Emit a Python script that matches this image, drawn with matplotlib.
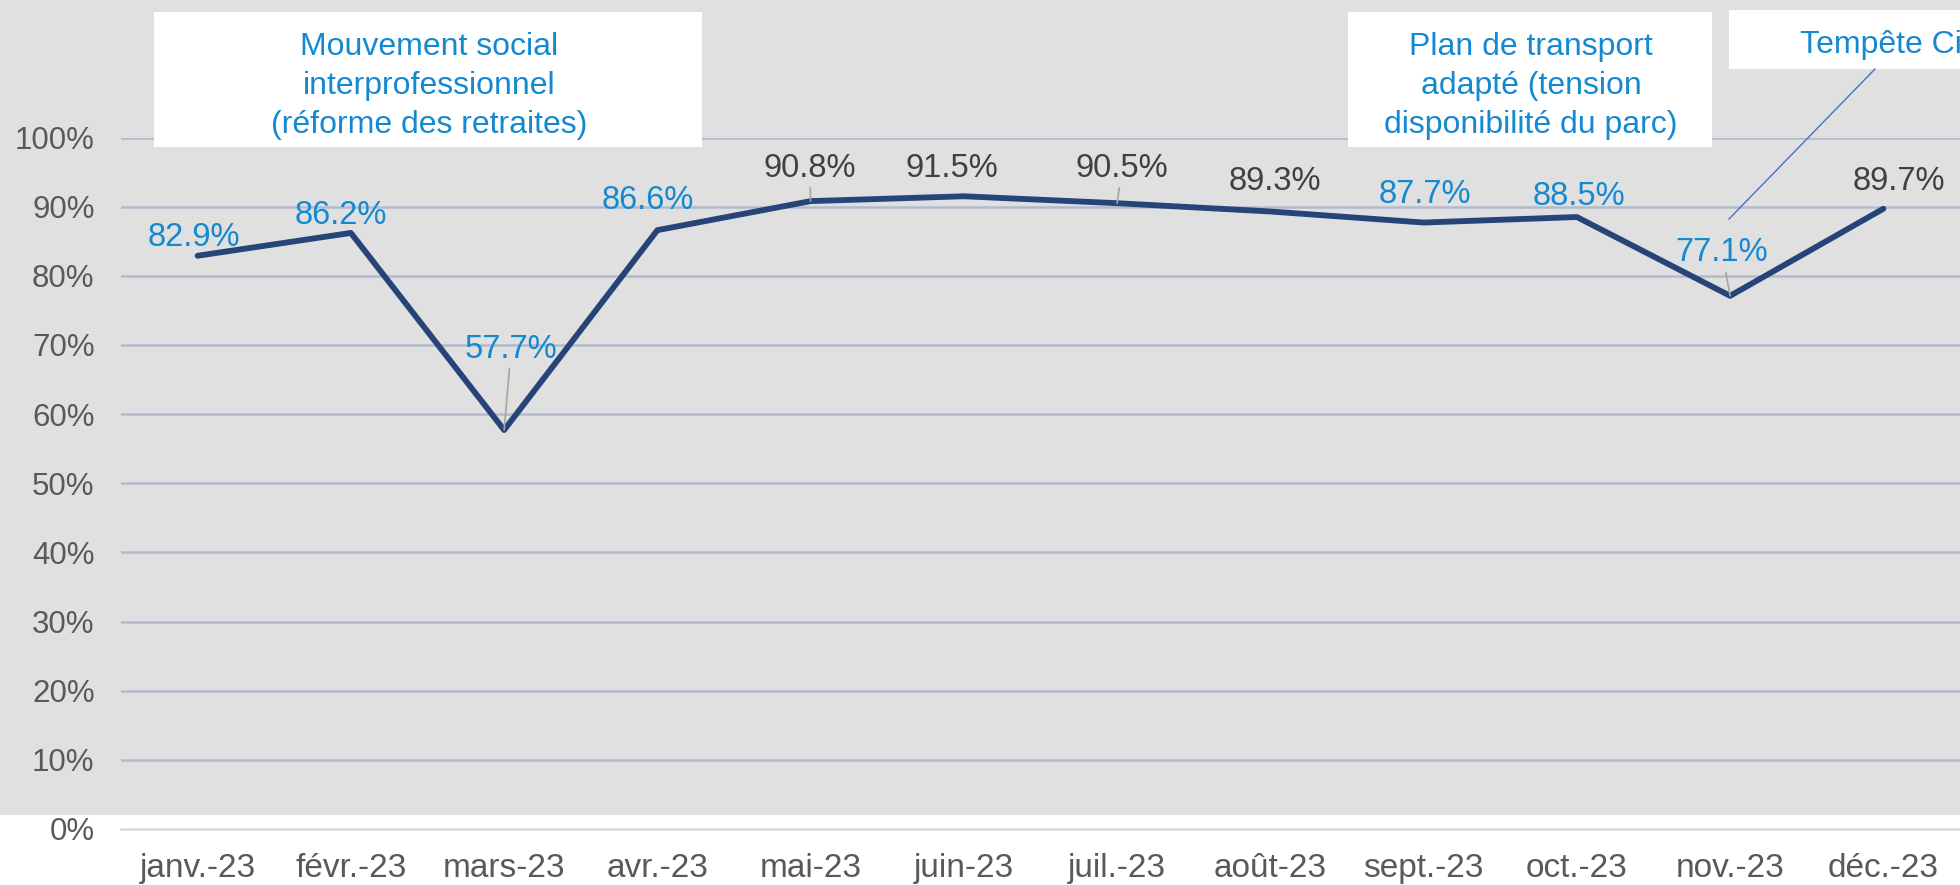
"""
Taux de régularité mensuel 2023, courbe avec étiquettes et encadrés d'événements
"""
import matplotlib
matplotlib.use("Agg")
from matplotlib import pyplot as plt
from matplotlib.lines import Line2D
from matplotlib.patches import Rectangle

months = ["janv.-23", "févr.-23", "mars-23", "avr.-23", "mai-23", "juin-23",
          "juil.-23", "août-23", "sept.-23", "oct.-23", "nov.-23", "déc.-23"]
rates = [82.9, 86.2, 57.7, 86.6, 90.8, 91.5, 90.5, 89.3, 87.7, 88.5, 77.1, 89.7]
highlighted = [True, True, True, True, False, False, False, False, True, True, True, False]
with_leader = [False, False, True, False, True, False, True, False, False, False, True, False]
yticks = list(range(0, 101, 10))

event_texts = [
    "Mouvement social\ninterprofessionnel\n(réforme des retraites)",
    "Plan de transport\nadapté (tension\ndisponibilité du parc)",
    "Tempête Ciarán",
]

# label offsets from the point, in pixels (dx right, dy up)
label_offsets = [(-4, 18), (-10, 17), (7, 81), (-10, 30), (-1, 33), (-12, 28),
                 (5, 35), (4, 30), (1, 28), (2, 21), (-8, 43), (16, 27)]

W, H = 1960, 885
BLUE = "#1589D0"
DARK = "#404040"
GREY_TXT = "#595959"
FONT = "Liberation Sans"


def fx(px: float) -> float:
    return px / W


def fy(py: float) -> float:
    return 1 - py / H


plt.rcParams["font.family"] = [FONT, "DejaVu Sans"]

fig = plt.figure(figsize=(W / 100, H / 100), dpi=100)
fig.patch.set_facecolor("white")
fig.add_artist(Rectangle((0, fy(815)), 1, 1 - fy(815), transform=fig.transFigure,
                         facecolor="#E0E0E0", edgecolor="none", zorder=-2))

ax = fig.add_axes([fx(121), fy(829), fx(1960) - fx(121), fy(137.5) - fy(829)])
ax.set_facecolor("none")
ax.set_xlim(-0.5, len(months) - 0.5)
ax.set_ylim(0, 100)

for t in yticks[1:]:
    ax.axhline(t, color="#B2BBCD", lw=1.8, zorder=1)
ax.axhline(0, color="#D9D9D9", lw=1.8, zorder=1, clip_on=False)

for s in ax.spines.values():
    s.set_visible(False)

ax.set_yticks(yticks)
ax.set_yticklabels([f"{t}%" for t in yticks])
ax.set_xticks(range(len(months)))
ax.set_xticklabels(months)
ax.tick_params(axis="both", length=0, labelcolor=GREY_TXT)
ax.tick_params(axis="y", pad=19, labelsize=22.5)
ax.tick_params(axis="x", pad=17, labelsize=24)

x = list(range(len(months)))
ax.plot(x, rates, color="#264478", lw=4.2, solid_capstyle="round", zorder=3)

for i, v in enumerate(rates):
    dx, dy = label_offsets[i]
    arrow = None
    if with_leader[i]:
        arrow = dict(arrowstyle="-", color="#A6A6A6", lw=1.2, shrinkA=1, shrinkB=0)
    ax.annotate(f"{v:.1f}%", xy=(i, v), xytext=(dx * 0.72, dy * 0.72),
                textcoords="offset points", ha="center", va="center",
                fontsize=23.5, color=BLUE if highlighted[i] else DARK,
                arrowprops=arrow, zorder=4, annotation_clip=False)

# event boxes (pixel extents of the white frames)
boxes = [(154, 12, 702, 147), (1348, 12, 1712, 147), (1729, 10, 2100, 69)]
text_pos = [(429, 86, "center"), (1531, 86, "center"), (1800, 45, "left")]
for (x0, y0, x1, y1), (tx, ty, ha), txt in zip(boxes, text_pos, event_texts):
    fig.add_artist(Rectangle((fx(x0), fy(y1)), fx(x1) - fx(x0), fy(y0) - fy(y1),
                             transform=fig.transFigure, facecolor="white",
                             edgecolor="none", zorder=5))
    fig.text(fx(tx), fy(ty), txt, ha=ha, va="center", fontsize=23, color=BLUE,
             linespacing=1.38, zorder=6)

fig.add_artist(Line2D([fx(1875), fx(1729)], [fy(69), fy(219)],
                      transform=fig.transFigure, color="#4472C4", lw=1, zorder=5))

fig.savefig("out.png", dpi=100)
